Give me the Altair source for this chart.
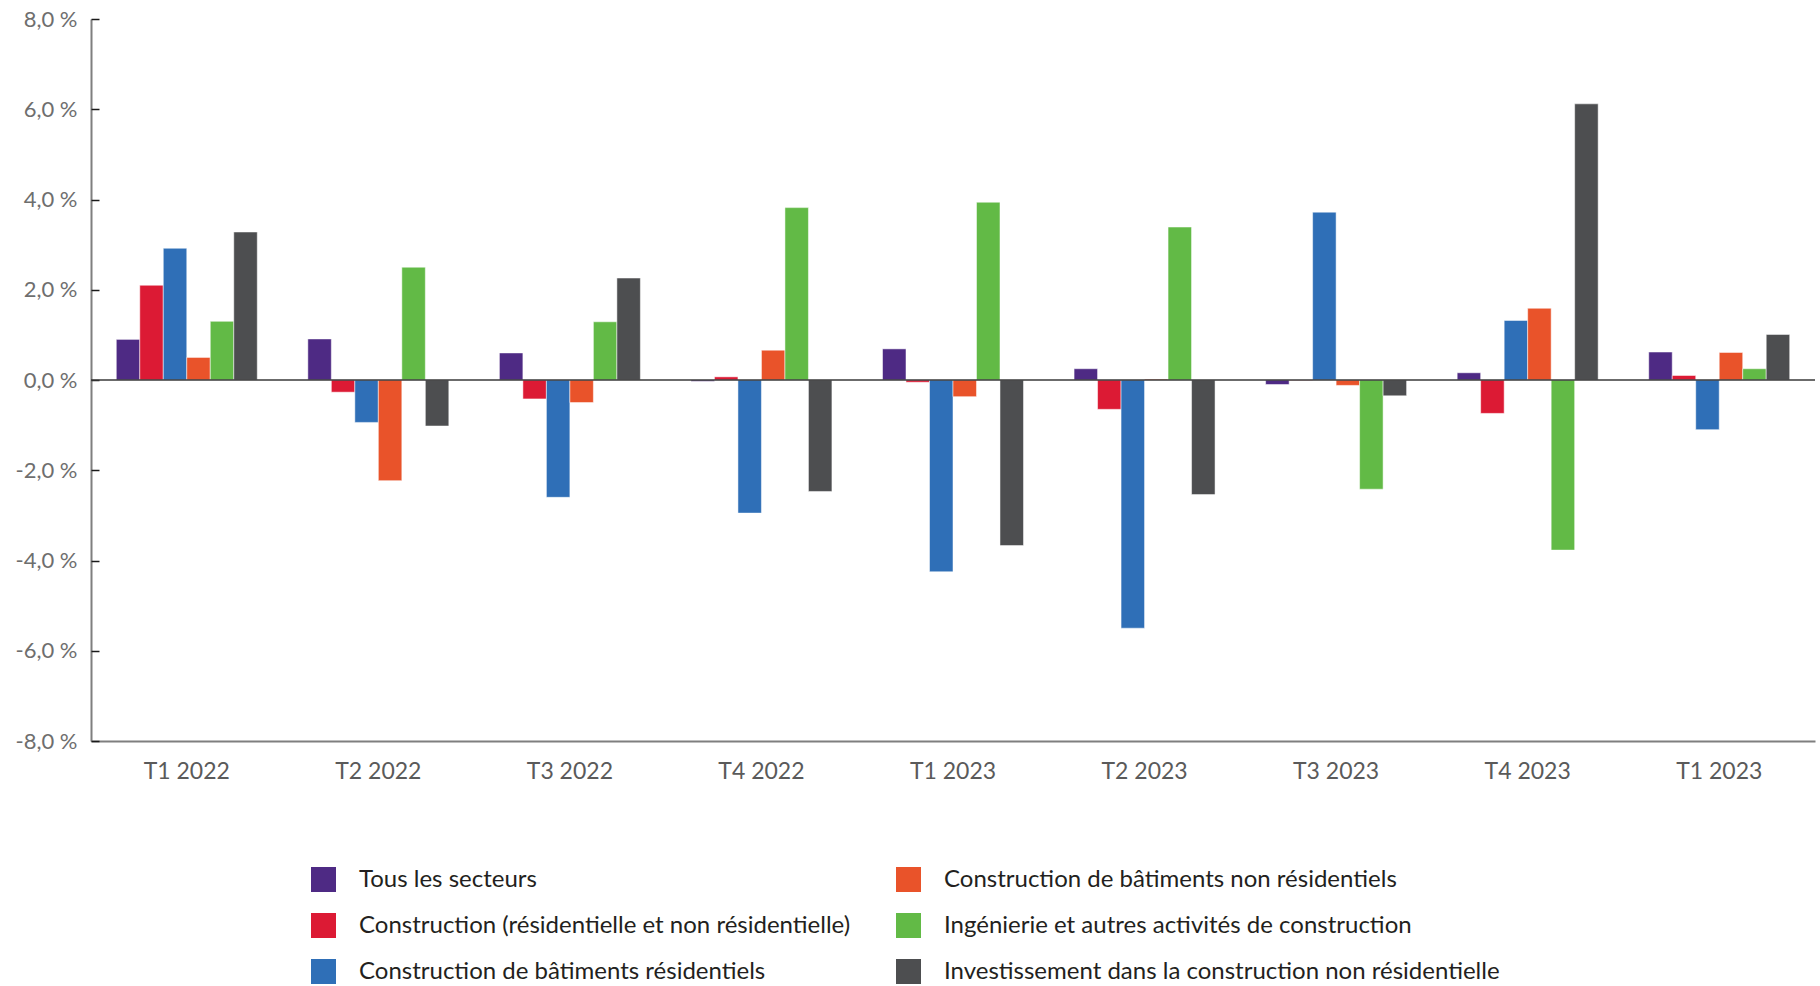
import altair as alt
import pandas as pd

periodes = ["T1 2022", "T2 2022", "T3 2022", "T4 2022", "T1 2023",
            "T2 2023", "T3 2023", "T4 2023", "T1 2023"]

series = [
    "Tous les secteurs",
    "Construction (résidentielle et non résidentielle)",
    "Construction de bâtiments résidentiels",
    "Construction de bâtiments non résidentiels",
    "Ingénierie et autres activités de construction",
    "Investissement dans la construction non résidentielle",
]
couleurs = ["#4E2A84", "#DC1A34", "#2F6FB7", "#E9532A", "#62BA46", "#4D4E50"]

tous = [0.90, 0.91, 0.60, -0.03, 0.69, 0.25, -0.10, 0.16, 0.62]
construction = [2.10, -0.27, -0.42, 0.07, -0.05, -0.65, -0.01, -0.74, 0.10]
bat_res = [2.92, -0.94, -2.60, -2.95, -4.25, -5.50, 3.72, 1.32, -1.10]
bat_nonres = [0.50, -2.23, -0.50, 0.66, -0.37, 0.02, -0.12, 1.59, 0.61]
ingenierie = [1.30, 2.50, 1.29, 3.82, 3.94, 3.39, -2.42, -3.77, 0.25]
investissement = [3.28, -1.02, 2.26, -2.47, -3.67, -2.54, -0.35, 6.12, 1.01]

y_ticks = [-8, -6, -4, -2, 0, 2, 4, 6, 8]

valeurs = [tous, construction, bat_res, bat_nonres, ingenierie, investissement]
rows = []
for i, p in enumerate(periodes):
    for s, v in zip(series, valeurs):
        rows.append({"idx": i, "serie": s, "valeur": v[i]})
df = pd.DataFrame(rows)

label_expr = "[" + ",".join("'" + p + "'" for p in periodes) + "][datum.value]"
y_label_expr = "(datum.value < 0 ? '-' : '') + replace(format(abs(datum.value), '.1f'), '.', ',') + ' %'"

bars = alt.Chart(df).mark_bar(stroke="white", strokeWidth=1, strokeOpacity=0.5).encode(
    x=alt.X(
        "idx:O",
        scale=alt.Scale(paddingInner=0.264, paddingOuter=0.132),
        axis=alt.Axis(
            title=None, labelExpr=label_expr, labelAngle=0, ticks=False, tickSize=0,
            labelFontSize=23, labelColor="#5a5a5a", labelFont="Lato",
            domainColor="#7f7f7f", domainWidth=2, labelPadding=30,
            labelBaseline="middle",
        ),
    ),
    xOffset=alt.XOffset("serie:N", scale=alt.Scale(domain=series, paddingInner=0, paddingOuter=0)),
    y=alt.Y(
        "valeur:Q",
        scale=alt.Scale(domain=[-8, 8], nice=False),
        axis=alt.Axis(
            title=None, values=y_ticks, labelExpr=y_label_expr, ticks=False, tickSize=0,
            labelPadding=14, labelFontSize=22, labelColor="#6e6e6e", labelFont="Lato",
            domainColor="#7f7f7f", domainWidth=2, grid=False,
        ),
    ),
    color=alt.Color(
        "serie:N",
        scale=alt.Scale(domain=series, range=couleurs),
        legend=alt.Legend(
            title=None, orient="none", legendX=220, legendY=848, columns=2,
            symbolType="square", symbolSize=625, symbolStrokeWidth=0, symbolOpacity=1,
            labelFontSize=24, labelFont="Lato", labelColor="#231f20", labelLimit=0,
            labelOffset=23, rowPadding=21, columnPadding=45, padding=0,
        ),
    ),
)

zero_df = pd.DataFrame({"zero": [0]})
zero = alt.Chart(zero_df).mark_rule(color="#3a3a3a", strokeWidth=1.5).encode(
    y=alt.Y(
        "zero:Q",
        axis=alt.Axis(
            orient="left", offset=-8, tickSize=8, labels=False, domain=False,
            grid=False, values=y_ticks, tickColor="#1a1a1a", tickWidth=1.5, title=None,
        ),
    )
)

chart = (
    alt.layer(bars, zero)
    .resolve_axis(y="independent")
    .properties(
        width=1724, height=722,
        padding={"left": 91, "top": 19, "right": 5, "bottom": 245},
        autosize=alt.AutoSizeParams(type="none"),
        background="white",
    )
    .configure_view(stroke=None)
)

chart.save("out.html", embed_options={"renderer": "svg", "actions": False})
